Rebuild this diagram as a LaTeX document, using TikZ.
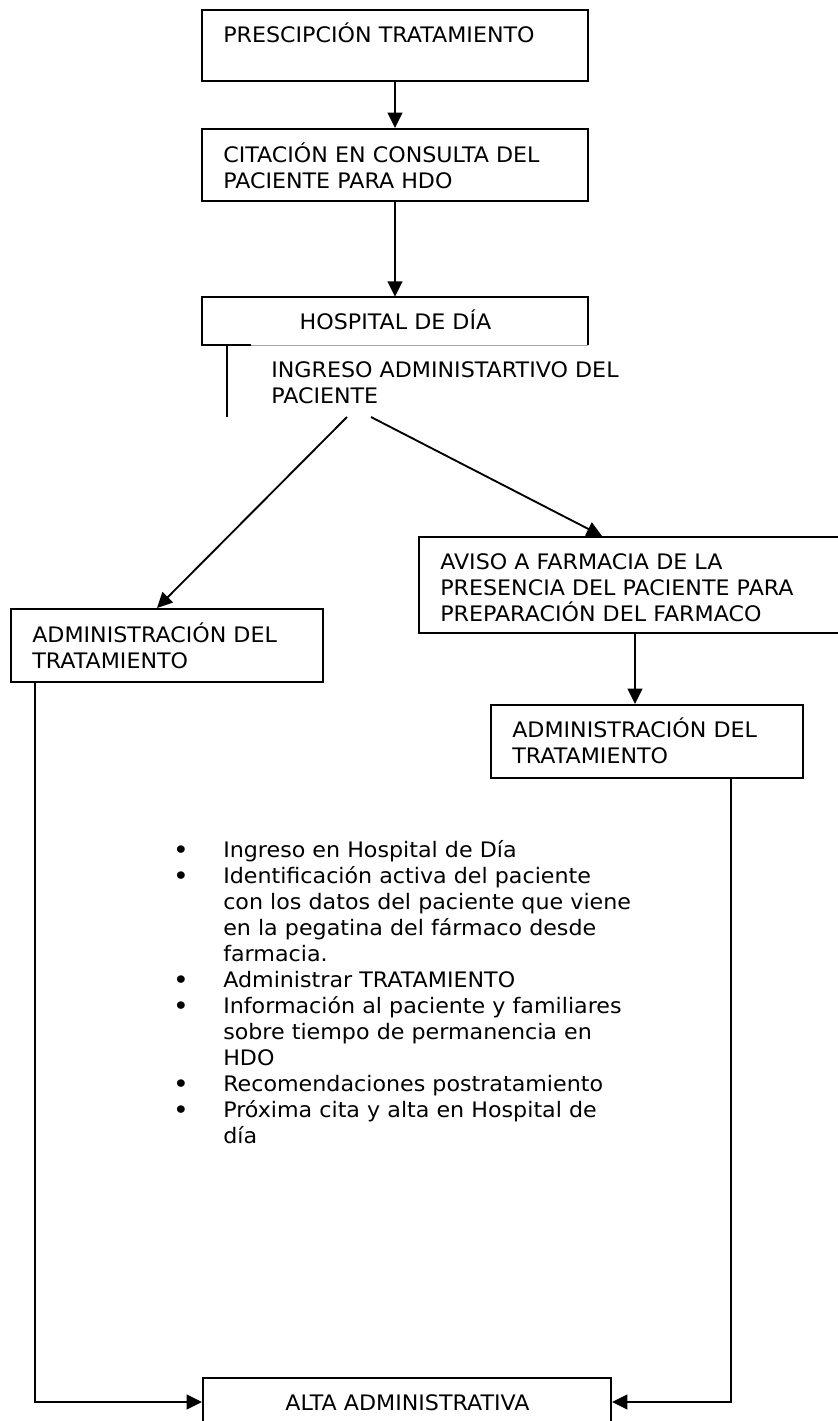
\documentclass[tikz,border=0pt]{standalone}
\usepackage{fontspec}
\setmainfont{DejaVu Sans}[FakeStretch=1.04]
\usetikzlibrary{arrows.meta}
\newcommand{\bul}{\leavevmode\llap{{\bfseries •}\hspace{26.4pt}}}
\tikzset{
  frame/.style={draw=black, line width=1.5pt, inner sep=0pt, fill=none},
  txt/.style={anchor=base west, inner sep=0pt, align=left, text width=#1, font=\fontsize{16pt}{19.5pt}\selectfont},
  txt/.default=300pt,
  ctxt/.style={anchor=base, inner sep=0pt, font=\fontsize{16pt}{19.5pt}\selectfont},
  conn/.style={draw=black, line width=1.4pt, -{Triangle[length=11.5pt,width=11pt]}},
  plain/.style={draw=black, line width=1.4pt},
}
\begin{document}
\begin{tikzpicture}[x=0.75pt,y=-0.75pt]
\useasboundingbox (0,0) rectangle (838,1421);
\clip (0,0) rectangle (838,1421);
\fill[white] (0,0) rectangle (838,1421);

% boxes
\node[frame, minimum width=386*0.75pt, minimum height=71*0.75pt] (b1) at (395,45.5) {};
\node[txt] (t1) at (223,42) {PRESCIPCIÓN TRATAMIENTO};

\node[frame, minimum width=386*0.75pt, minimum height=72*0.75pt] (b2) at (395,165) {};
\node[txt] (t2) at (223,162) {CITACIÓN EN CONSULTA DEL\\PACIENTE PARA HDO};

% hospital de dia (open bottom)
\coordinate (hTL) at (202,297);
\coordinate (hTR) at (588,297);
\coordinate (hBL) at (202,345);
\coordinate (hBR) at (588,345);
\coordinate (hBM) at (251,345);
\node[inner sep=0pt, minimum width=386*0.75pt, minimum height=48*0.75pt] (b3) at (395,321) {};
\draw[line width=1.5pt] (hBM) -- (hBL) -- (hTL) -- (hTR) -- (hBR);
\draw[gray!70, line width=0.7pt] (hBM) -- (hBR);
\node[ctxt] (t3) at (395.5,329) {HOSPITAL DE DÍA};
\coordinate (vtop) at (227,345);
\coordinate (vbot) at (227,417);
\draw[plain] (vtop) -- (vbot);
\node[txt] (t4) at (271,377) {INGRESO ADMINISTARTIVO DEL\\PACIENTE};

% second level boxes
\node[frame, minimum width=312*0.75pt, minimum height=73*0.75pt] (a1) at (167,645.5) {};
\node[txt] (t5) at (32,642) {ADMINISTRACIÓN DEL\\TRATAMIENTO};

\node[frame, minimum width=460*0.75pt, minimum height=96*0.75pt] (av) at (649,585) {};
\node[txt] (t6) at (440,569) {AVISO A FARMACIA DE LA\\PRESENCIA DEL PACIENTE PARA\\PREPARACIÓN DEL FARMACO};

\node[frame, minimum width=312*0.75pt, minimum height=73*0.75pt] (a2) at (647,741.5) {};
\node[txt] (t7) at (512,737) {ADMINISTRACIÓN DEL\\TRATAMIENTO};

\node[frame, minimum width=408*0.75pt, minimum height=62*0.75pt] (alta) at (407,1409) {};
\node[ctxt] (t8) at (407.5,1410) {ALTA ADMINISTRATIVA};

% bullet list
\node[txt=320pt] (list) at (223,857) {%
\bul Ingreso en Hospital de Día\\
\bul Identificación activa del paciente\\
con los datos del paciente que viene\\
en la pegatina del fármaco desde\\
farmacia.\\
\bul Administrar TRATAMIENTO\\
\bul Información al paciente y familiares\\
sobre tiempo de permanencia en\\
HDO\\
\bul Recomendaciones postratamiento\\
\bul Próxima cita y alta en Hospital de\\
día};

% connectors
\draw[conn] (b1.south) -- (b2.north);
\draw[conn] (b2.south) -- (b3.north);
\coordinate (s1) at (347,417);
\coordinate (s2) at (371,417);
\draw[conn] (s1) -- (a1.north -| 157,0);
\draw[conn] (s2) -- (av.north -| 602,0);
\draw[conn] (av.south -| 635,0) -- (a2.north -| 635,0);
\draw[conn] (a1.south -| 35,0) |- (alta.west |- 0,1402);
\draw[conn] (a2.south -| 731,0) |- (alta.east |- 0,1402);
\end{tikzpicture}
\end{document}
